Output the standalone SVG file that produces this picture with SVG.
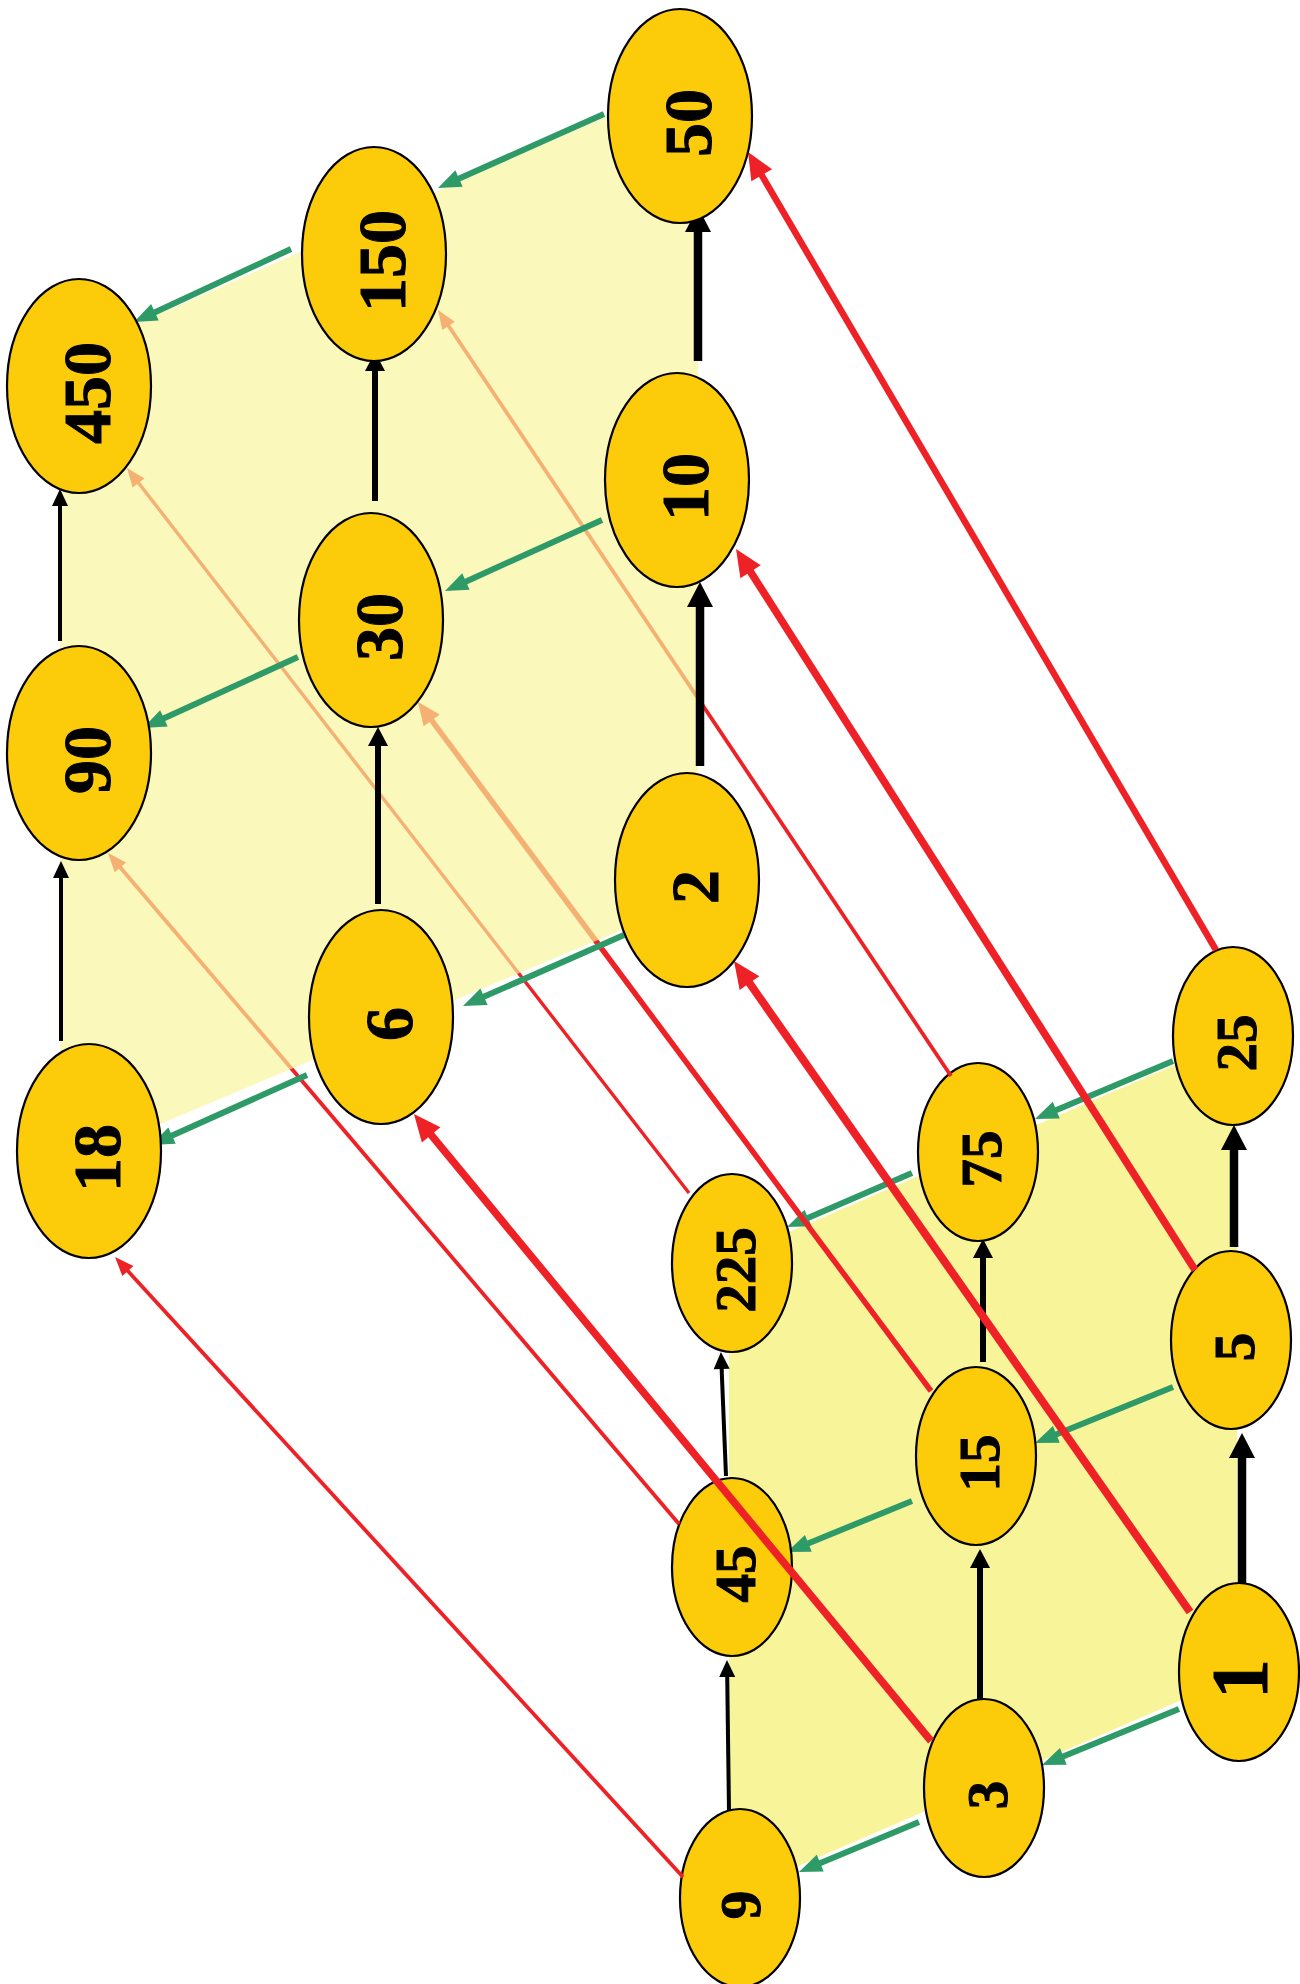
<svg xmlns="http://www.w3.org/2000/svg" width="1300" height="1984" viewBox="0 0 1300 1984">
<style>
.node ellipse{fill:#FCCB0A;stroke:#000;stroke-width:2.2}
.node text{font-family:"Liberation Serif","Times New Roman",serif;font-weight:bold;fill:#000;stroke:#000;stroke-width:1;text-anchor:middle}
.up text{font-size:68px}
.lo text{font-size:57px}
.blk{stroke:#000;fill:none}
.grn{stroke:#2E9A68;stroke-width:6;fill:none;marker-end:url(#hg)}
.red{stroke:#EE2226;fill:none}
</style>
<defs>
<marker id="hbk1" markerUnits="userSpaceOnUse" orient="auto" refX="0" refY="0" overflow="visible"><path d="M-1,-13 L24,0 L-1,13 Z" fill="#000"/></marker>
<marker id="hbk2" markerUnits="userSpaceOnUse" orient="auto" refX="0" refY="0" overflow="visible"><path d="M-1,-10 L18,0 L-1,10 Z" fill="#000"/></marker>
<marker id="hbk3" markerUnits="userSpaceOnUse" orient="auto" refX="0" refY="0" overflow="visible"><path d="M-1,-8 L16,0 L-1,8 Z" fill="#000"/></marker>
<marker id="hg" markerUnits="userSpaceOnUse" orient="auto" refX="0" refY="0" overflow="visible"><path d="M-1,-9 L22,0 L-1,9 Z" fill="#2E9A68"/></marker>
<marker id="hr1" markerUnits="userSpaceOnUse" orient="auto" refX="0" refY="0" overflow="visible"><path d="M-1,-12 L26,0 L-1,12 Z" fill="#EE2226"/></marker>
<marker id="hr2" markerUnits="userSpaceOnUse" orient="auto" refX="0" refY="0" overflow="visible"><path d="M-1,-10 L22,0 L-1,10 Z" fill="#EE2226"/></marker>
<marker id="hr3" markerUnits="userSpaceOnUse" orient="auto" refX="0" refY="0" overflow="visible"><path d="M-1,-7.5 L18,0 L-1,7.5 Z" fill="#EE2226"/></marker>
</defs>
<rect width="1300" height="1984" fill="#fff"/>

<!-- lower plane -->
<polygon id="plane-lower" points="1237,1038 729,1258 729,1896 1237,1676" fill="#F8F49A"/>

<g id="connectors-lower">
<path class="blk" stroke-width="8.5" marker-end="url(#hbk1)" d="M1234,1247 V1149"/>
<path class="blk" stroke-width="8.5" marker-end="url(#hbk1)" d="M1242,1583 V1457"/>
<path class="blk" stroke-width="6" marker-end="url(#hbk2)" d="M983,1362 V1257"/>
<path class="blk" stroke-width="6" marker-end="url(#hbk2)" d="M980,1699 V1567"/>
<path class="blk" stroke-width="4" marker-end="url(#hbk3)" d="M726,1476 L721.6,1368"/>
<path class="blk" stroke-width="4" marker-end="url(#hbk3)" d="M729,1811 L727.2,1676"/>
<path class="grn" d="M1173,1061 L1055.3,1110.5"/>
<path class="grn" d="M912,1173 L807.2,1218.3"/>
<path class="grn" d="M1173,1387 L1055.4,1434.7"/>
<path class="grn" d="M912,1501 L807.4,1543.7"/>
<path class="grn" d="M1179,1709 L1062.4,1756.7"/>
<path class="grn" d="M919,1822 L819.3,1863.5"/>
</g>

<g id="n25" class="node lo"><ellipse cx="1233" cy="1036" rx="60" ry="89"/><text transform="translate(1237,1043) rotate(-90)" dy="0.34em">25</text></g>
<g id="n75" class="node lo"><ellipse cx="978" cy="1152" rx="60" ry="89"/><text transform="translate(982,1159) rotate(-90)" dy="0.34em">75</text></g>
<g id="n225" class="node lo"><ellipse cx="732" cy="1263" rx="60" ry="89"/><text transform="translate(736,1270) rotate(-90)" dy="0.34em">225</text></g>
<g id="n5" class="node lo"><ellipse cx="1231" cy="1340" rx="60" ry="89"/><text transform="translate(1235,1347) rotate(-90)" dy="0.34em">5</text></g>
<g id="n15" class="node lo"><ellipse cx="976" cy="1456" rx="60" ry="89"/><text transform="translate(980,1463) rotate(-90)" dy="0.34em">15</text></g>
<g id="n45" class="node lo"><ellipse cx="732" cy="1567" rx="60" ry="89"/><text transform="translate(736,1574) rotate(-90)" dy="0.34em">45</text></g>
<g id="n1" class="node lo"><ellipse cx="1239" cy="1672" rx="60" ry="89"/><text transform="translate(1240,1679) rotate(-90)" dy="0.34em" style="font-size:80px">1</text></g>
<g id="n3" class="node lo"><ellipse cx="984" cy="1788" rx="60" ry="89"/><text transform="translate(988,1795) rotate(-90)" dy="0.34em">3</text></g>
<g id="n9" class="node lo"><ellipse cx="740" cy="1898" rx="60" ry="89"/><text transform="translate(741,1905) rotate(-90)" dy="0.34em">9</text></g>

<g id="connectors-cross">
<path class="red" stroke-width="8" marker-end="url(#hr1)" d="M1190,1612 L748.9,982.3"/>
<path class="red" stroke-width="7.5" marker-end="url(#hr1)" d="M931,1741 L430.5,1134.1"/>
<path class="red" stroke-width="7.5" marker-end="url(#hr1)" d="M1195,1270 L750,570.9"/>
<path class="red" stroke-width="6.5" marker-end="url(#hr1)" d="M1216,950 L761.2,174.4"/>
<path class="red" stroke-width="5.5" marker-end="url(#hr2)" d="M931,1391 L431.1,719.6"/>
<path class="red" stroke-width="3.8" marker-end="url(#hr3)" d="M683,1877 L127.2,1270.3"/>
<path class="red" stroke-width="3.8" marker-end="url(#hr3)" d="M679,1524 L119.7,866.7"/>
<path class="red" stroke-width="3.8" marker-end="url(#hr3)" d="M951,1076 L448,325"/>
<path class="red" stroke-width="3.4" marker-end="url(#hr3)" d="M689,1193 L138,482.2"/>
</g>

<!-- upper plane -->
<polygon id="plane-upper" points="698,76 60,358 60,1166 698,898" fill="#F8F49A" fill-opacity="0.68"/>

<g id="connectors-upper">
<path class="blk" stroke-width="8.5" marker-end="url(#hbk1)" d="M698,361 V231"/>
<path class="blk" stroke-width="8.5" marker-end="url(#hbk1)" d="M700,766 V606"/>
<path class="blk" stroke-width="6" marker-end="url(#hbk2)" d="M375,501 V370"/>
<path class="blk" stroke-width="6" marker-end="url(#hbk2)" d="M378,904 V745"/>
<path class="blk" stroke-width="4" marker-end="url(#hbk3)" d="M61,1041 V877"/>
<path class="blk" stroke-width="4" marker-end="url(#hbk3)" d="M60,641 V505"/>
<path class="grn" d="M604,114 L458.1,179"/>
<path class="grn" d="M291,249 L154,312.7"/>
<path class="grn" d="M602,520 L465,581.9"/>
<path class="grn" d="M298,657 L163,718.8"/>
<path class="grn" d="M624,935 L483.1,997.1"/>
<path class="grn" d="M307,1075 L171.1,1136"/>
</g>

<g id="n50" class="node up"><ellipse cx="680" cy="116" rx="72" ry="107"/><text transform="translate(688,123) rotate(-90)" dy="0.34em">50</text></g>
<g id="n150" class="node up"><ellipse cx="374" cy="254" rx="72" ry="107"/><text transform="translate(382,261) rotate(-90)" dy="0.34em">150</text></g>
<g id="n450" class="node up"><ellipse cx="79" cy="386" rx="72" ry="107"/><text transform="translate(87,393) rotate(-90)" dy="0.34em">450</text></g>
<g id="n10" class="node up"><ellipse cx="677" cy="480" rx="72" ry="107"/><text transform="translate(685,487) rotate(-90)" dy="0.34em">10</text></g>
<g id="n30" class="node up"><ellipse cx="371" cy="620" rx="72" ry="107"/><text transform="translate(379,627) rotate(-90)" dy="0.34em">30</text></g>
<g id="n90" class="node up"><ellipse cx="79" cy="753" rx="72" ry="107"/><text transform="translate(87,760) rotate(-90)" dy="0.34em">90</text></g>
<g id="n2" class="node up"><ellipse cx="687" cy="880" rx="72" ry="107"/><text transform="translate(695,887) rotate(-90)" dy="0.34em">2</text></g>
<g id="n6" class="node up"><ellipse cx="381" cy="1017" rx="72" ry="107"/><text transform="translate(389,1024) rotate(-90)" dy="0.34em">6</text></g>
<g id="n18" class="node up"><ellipse cx="89" cy="1151" rx="72" ry="107"/><text transform="translate(97,1158) rotate(-90)" dy="0.34em">18</text></g>
</svg>
